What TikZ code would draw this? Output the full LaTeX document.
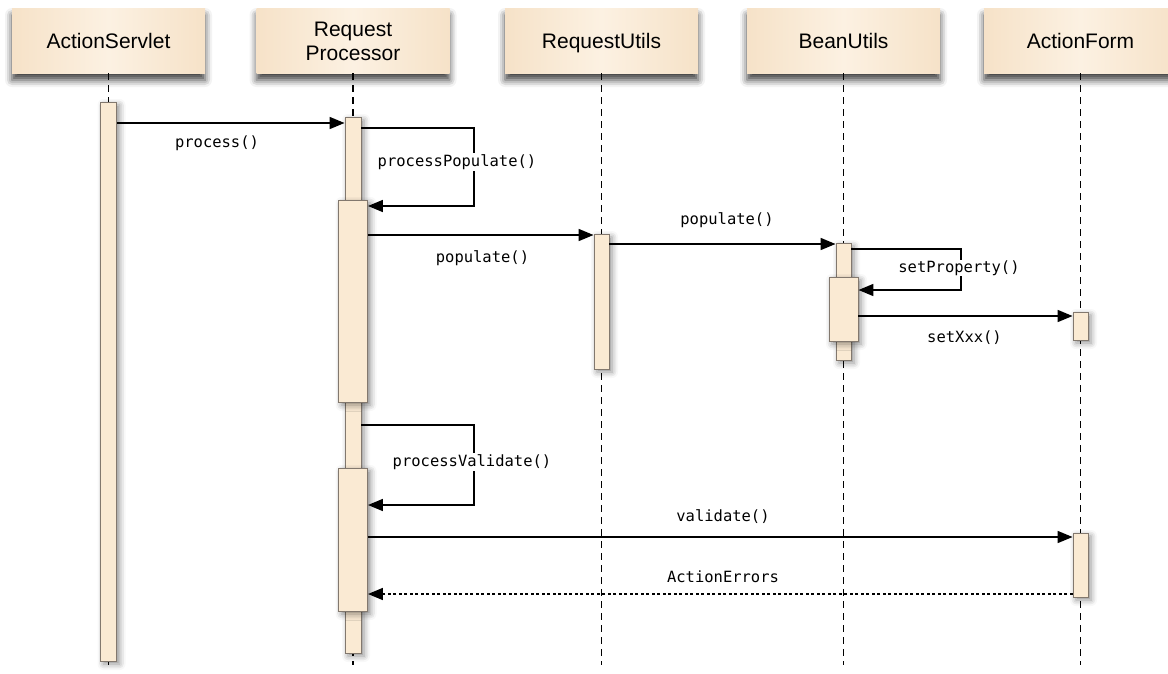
\documentclass[tikz,border=0pt]{standalone}
\usepackage{fontspec}
\setmainfont{Liberation Sans}
\newfontfamily\monof{DejaVu Sans Mono}
\usetikzlibrary{arrows.meta,shadows.blur}
\definecolor{hdr}{RGB}{246,226,200}
\definecolor{hdrl}{RGB}{252,241,226}
\definecolor{barc}{RGB}{250,234,211}
\definecolor{bard}{RGB}{130,120,110}
\newcommand{\hdrtxt}[1]{\raisebox{-3pt}[\height][\depth]{\begin{tabular}{@{}c@{}}#1\end{tabular}}}
\begin{document}
\begin{tikzpicture}[x=1pt,y=-1pt,
  hdrbox/.style={rectangle, minimum width=193pt, minimum height=65pt, inner sep=0pt,
    left color=hdr, right color=hdr, middle color=hdrl, align=center,
    font=\fontsize{21}{24}\selectfont,
    blur shadow={shadow xshift=0pt, shadow yshift=-7pt, shadow blur radius=7pt, shadow opacity=75}},
  actbar/.style={rectangle, draw=bard, line width=0.9pt, fill=barc, inner sep=0pt,
    blur shadow={shadow xshift=3pt, shadow yshift=-3pt, shadow blur radius=6pt, shadow opacity=45}},
  life/.style={line width=1.7pt, dash pattern=on 7pt off 5pt},
  msg/.style={line width=1.7pt, -{Triangle[length=15pt,width=12pt]}},
  ret/.style={msg, dash pattern=on 3pt off 2.5pt},
  lbl/.style={font=\monof\fontsize{15.5}{18}\selectfont, inner sep=1pt},
  lblw/.style={lbl, fill=white}]
\useasboundingbox (0,0) rectangle (1168,673);

% headers
\node[hdrbox] (as) at (108.5,40.5) {\hdrtxt{ActionServlet}};
\node[hdrbox] (rp) at (353,40.5) {\hdrtxt{Request\\Processor}};
\node[hdrbox] (ru) at (601.5,40.5) {\hdrtxt{RequestUtils}};
\node[hdrbox] (bu) at (843.5,40.5) {\hdrtxt{BeanUtils}};
\node[hdrbox] (af) at (1080.5,40.5) {\hdrtxt{ActionForm}};

% lifelines
\coordinate (asend) at (108.5,665);
\coordinate (rpend) at (353,665);
\coordinate (ruend) at (601.5,665);
\coordinate (buend) at (843.5,665);
\coordinate (afend) at (1080.5,665);
\draw[life] (as.south) -- (asend);
\draw[life] (rp.south) -- (rpend);
\draw[life] (ru.south) -- (ruend);
\draw[life] (bu.south) -- (buend);
\draw[life] (af.south) -- (afend);

% activation bars
\node[actbar, minimum width=16pt, minimum height=559pt] (asb) at (108.5,381.5) {};
\node[actbar, minimum width=16pt, minimum height=536pt] (rpn) at (353,385) {};
\node[actbar, minimum width=29pt, minimum height=202pt] (rpw1) at (353,301) {};
\node[actbar, minimum width=29pt, minimum height=143pt] (rpw2) at (353,539.5) {};
\node[actbar, minimum width=15pt, minimum height=135pt] (rub) at (601.5,301.5) {};
\node[actbar, minimum width=15pt, minimum height=117pt] (bun) at (843.5,301.5) {};
\node[actbar, minimum width=29pt, minimum height=64pt] (buw) at (843.5,309) {};
\node[actbar, minimum width=15pt, minimum height=28pt] (afb1) at (1080.5,326) {};
\node[actbar, minimum width=15pt, minimum height=64pt] (afb2) at (1080.5,565) {};

% loop corners
\coordinate (pp1) at (474,128);
\coordinate (pp2) at (474,206);
\coordinate (sp1) at (961,249);
\coordinate (sp2) at (961,290);
\coordinate (pv1) at (474,425);
\coordinate (pv2) at (474,505);

% messages
\draw[msg] (asb.east |- 0,123) -- (rpn.west |- 0,123);
\draw[msg] (rpn.east |- pp1) -- (pp1) -- (pp2) -- (rpw1.east |- pp2);
\draw[msg] (rpw1.east |- 0,235) -- (rub.west |- 0,235);
\draw[msg] (rub.east |- 0,244) -- (bun.west |- 0,244);
\draw[msg] (bun.east |- sp1) -- (sp1) -- (sp2) -- (buw.east |- sp2);
\draw[msg] (buw.east |- 0,316) -- (afb1.west |- 0,316);
\draw[msg] (rpn.east |- pv1) -- (pv1) -- (pv2) -- (rpw2.east |- pv2);
\draw[msg] (rpw2.east |- 0,537) -- (afb2.west |- 0,537);
\draw[ret] (afb2.west |- 0,594) -- (rpw2.east |- 0,594);

% labels
\node[lbl] (l1) at (217,143) {process()};
\node[lblw] (l2) at (457,162) {processPopulate()};
\node[lbl] (l3) at (482.5,258) {populate()};
\node[lbl] (l4) at (727,220) {populate()};
\node[lblw] (l5) at (959,268) {setProperty()};
\node[lbl] (l6) at (964.5,338) {setXxx()};
\node[lblw] (l7) at (472,462) {processValidate()};
\node[lbl] (l8) at (723,517) {validate()};
\node[lbl] (l9) at (723,577) {ActionErrors};
\end{tikzpicture}
\end{document}
